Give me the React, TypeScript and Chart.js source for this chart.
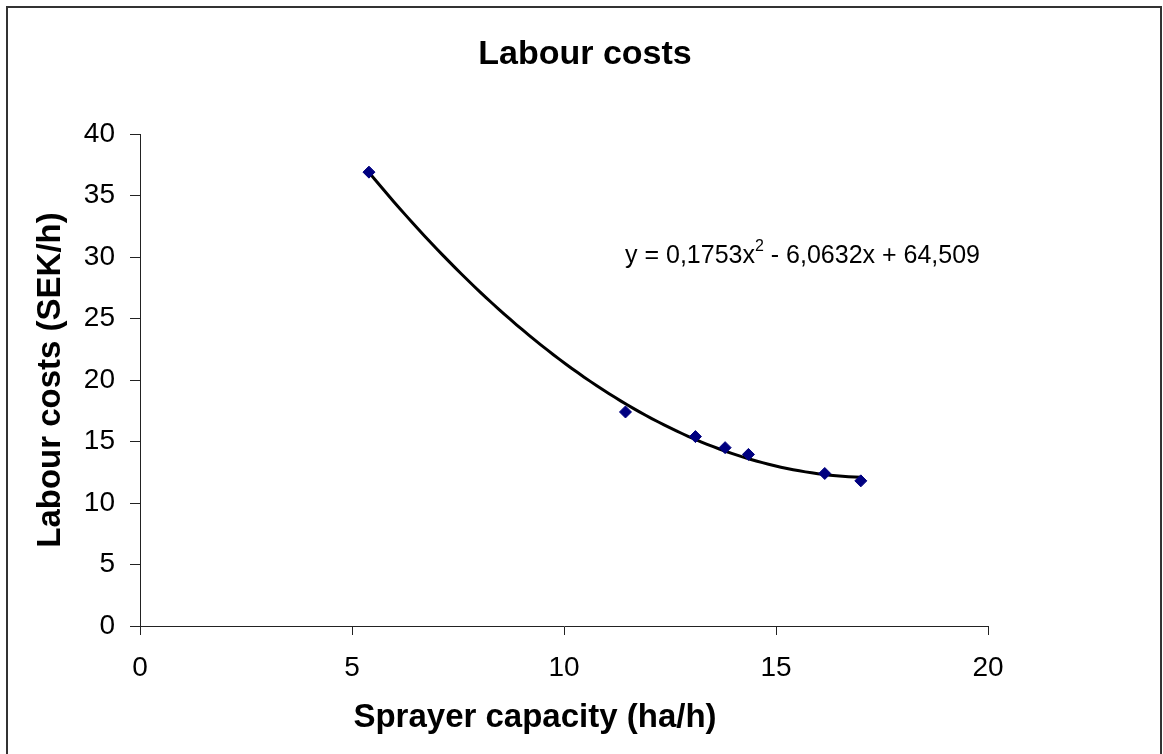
import React, { useEffect, useRef } from "react";
import { Chart, registerables } from "chart.js";

Chart.register(...registerables);

// Sprayer capacity (ha/h) and the matching labour cost (SEK/h)
const capacity = [5.4, 11.45, 13.1, 13.8, 14.35, 16.15, 17.0];
const labourCost = [36.9, 17.4, 15.4, 14.5, 13.95, 12.4, 11.8];

// Second-order polynomial trendline: y = a·x² + b·x + c
const trendCoefficients = [0.1753, -6.0632, 64.509];

const xTickValues = [0, 5, 10, 15, 20];
const yTickValues = [0, 5, 10, 15, 20, 25, 30, 35, 40];

const chartTitle = "Labour costs";
const xAxisTitle = "Sprayer capacity (ha/h)";
const yAxisTitle = "Labour costs (SEK/h)";

const FONT = "'Liberation Sans', Arial, Helvetica, sans-serif";

const polyValue = (x: number) =>
  trendCoefficients[0] * x * x + trendCoefficients[1] * x + trendCoefficients[2];

// Trendline sampled across the span of the measured capacities
const trendSteps = 80;
const trendMin = Math.min(...capacity);
const trendMax = Math.max(...capacity);
const trendPoints = Array.from({ length: trendSteps + 1 }, (_, i) => {
  const x = trendMin + ((trendMax - trendMin) * i) / trendSteps;
  return { x, y: polyValue(x) };
});

const decimalComma = (n: number) => String(n).replace(".", ",");

const frameAndText = {
  id: "frameAndText",
  beforeDraw(chart: any) {
    const { ctx, width, height } = chart;
    ctx.save();
    ctx.fillStyle = "#ffffff";
    ctx.fillRect(0, 0, width, height);
    ctx.restore();
  },
  afterDraw(chart: any) {
    const { ctx } = chart;
    ctx.save();
    // outer frame of the chart
    ctx.strokeStyle = "#333333";
    ctx.lineWidth = 2;
    ctx.strokeRect(7, 7, 1154, 780);

    ctx.fillStyle = "#000000";

    // chart title
    ctx.textAlign = "center";
    ctx.textBaseline = "middle";
    ctx.font = `bold 34px ${FONT}`;
    ctx.fillText(chartTitle, 585, 55);

    // horizontal axis title
    ctx.font = `bold 33px ${FONT}`;
    ctx.fillText(xAxisTitle, 535, 718);

    // trendline equation
    const [a, b, c] = trendCoefficients;
    const first = `y = ${decimalComma(a)}x`;
    const rest = ` ${b < 0 ? "-" : "+"} ${decimalComma(Math.abs(b))}x ${c < 0 ? "-" : "+"} ${decimalComma(Math.abs(c))}`;
    const x0 = 625;
    const baseline = 263;
    ctx.textBaseline = "alphabetic";
    ctx.textAlign = "left";
    ctx.font = `25px ${FONT}`;
    ctx.fillText(first, x0, baseline);
    let x = x0 + ctx.measureText(first).width;
    ctx.font = `16px ${FONT}`;
    ctx.fillText("2", x, baseline - 12);
    x += ctx.measureText("2").width;
    ctx.font = `25px ${FONT}`;
    ctx.fillText(rest, x, baseline);
    ctx.restore();
  },
};

export default function App() {
  const canvasRef = useRef<HTMLCanvasElement | null>(null);

  useEffect(() => {
    const canvas = canvasRef.current;
    if (!canvas) return;
    const axisColor = "#222222";
    const chart = new Chart(canvas, {
      type: "scatter",
      data: {
        datasets: [
          {
            label: "Labour costs",
            data: capacity.map((x, i) => ({ x, y: labourCost[i] })),
            pointStyle: "rectRot",
            pointRadius: 6,
            pointBackgroundColor: "#000080",
            pointBorderColor: "#000080",
            pointBorderWidth: 1,
            showLine: false,
            order: 0,
          },
          {
            label: "Trend",
            data: trendPoints,
            showLine: true,
            borderColor: "#000000",
            borderWidth: 3,
            pointRadius: 0,
            tension: 0,
            order: 1,
          },
        ],
      },
      options: {
        responsive: false,
        animation: false,
        devicePixelRatio: 1,
        layout: { padding: { left: 0, right: 175, top: 134, bottom: 0 } },
        plugins: {
          legend: { display: false },
          tooltip: { enabled: false },
          title: { display: false },
        },
        scales: {
          x: {
            type: "linear",
            min: 0,
            max: 20,
            afterFit: (scale: any) => {
              scale.height = 128;
            },
            afterBuildTicks: (scale: any) => {
              scale.ticks = xTickValues.map((value) => ({ value }));
            },
            ticks: {
              color: "#000000",
              font: { family: FONT, size: 28 },
              padding: 16,
              maxRotation: 0,
            },
            grid: {
              drawOnChartArea: false,
              drawTicks: true,
              tickLength: 9,
              color: axisColor,
              lineWidth: 1,
            },
            border: { display: true, color: axisColor, width: 1 },
          },
          y: {
            type: "linear",
            min: 0,
            max: 40,
            afterFit: (scale: any) => {
              scale.width = 140;
            },
            afterBuildTicks: (scale: any) => {
              scale.ticks = yTickValues.map((value) => ({ value }));
            },
            ticks: {
              color: "#000000",
              font: { family: FONT, size: 28 },
              padding: 15,
            },
            grid: {
              drawOnChartArea: false,
              drawTicks: true,
              tickLength: 10,
              color: axisColor,
              lineWidth: 1,
            },
            border: { display: true, color: axisColor, width: 1 },
            title: {
              display: true,
              text: yAxisTitle,
              color: "#000000",
              font: { family: FONT, size: 33, weight: "bold", lineHeight: 1.2 },
              padding: { top: 31, bottom: 0 },
            },
          },
        },
      },
      plugins: [frameAndText],
    });
    return () => chart.destroy();
  }, []);

  return (
    <div style={{ position: "absolute", left: 0, top: 0, width: 1163, height: 754, background: "#fff" }}>
      <canvas ref={canvasRef} width={1163} height={754} style={{ width: 1163, height: 754, display: "block" }} />
    </div>
  );
}
